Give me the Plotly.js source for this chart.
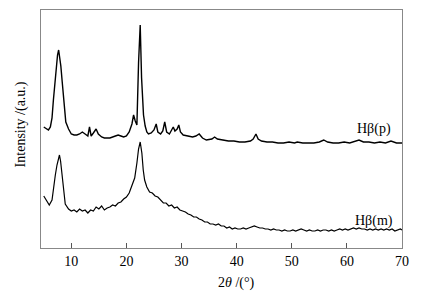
<!DOCTYPE html>
<html>
<head>
<meta charset="utf-8">
<script src="https://cdn.plot.ly/plotly-3.0.1.min.js"></script>
<style>
  html, body { margin: 0; padding: 0; background: #fff; }
  #chart { width: 427px; height: 295px; }
</style>
</head>
<body>
<div id="chart"></div>
<script>
// H-beta (p) pattern
const pTheta = [5.0, 5.5, 5.85, 6.2, 6.5, 6.75, 7.0, 7.25, 7.5, 7.7, 7.9, 8.1, 8.35, 8.7, 9.0, 9.5, 10.0, 10.5, 11.0, 11.5, 12.0, 12.5, 13.0, 13.3, 13.6, 14.0, 14.5, 14.9, 15.5, 16.0, 17.0, 18.0, 18.5, 19.0, 19.5, 20.0, 20.5, 21.0, 21.3, 21.6, 21.9, 22.2, 22.5, 22.75, 22.95, 23.1, 23.4, 23.7, 24.0, 24.5, 25.0, 25.4, 25.7, 26.2, 26.6, 26.95, 27.3, 27.8, 28.2, 28.5, 28.8, 29.2, 29.5, 29.8, 30.3, 31.0, 32.0, 32.6, 33.2, 33.8, 34.5, 35.5, 36.0, 36.5, 37.5, 38.5, 39.5, 40.5, 41.5, 42.5, 43.0, 43.5, 43.9, 44.5, 45.5, 46.5, 47.5, 48.5, 49.5, 50.5, 51.0, 52.0, 53.0, 54.0, 55.0, 55.8, 56.5, 57.5, 58.5, 59.5, 60.5, 61.5, 62.2, 63.0, 64.0, 65.0, 66.0, 67.0, 68.0, 69.0, 70.0]
const pIntensity = [121, 119, 118, 121, 130, 148, 165, 180, 193, 198, 192, 182, 166, 140, 126, 119, 114, 113, 113, 114, 116, 114, 112, 121, 112, 115, 119, 114, 111, 110, 110, 112, 113, 112, 111, 112, 116, 124, 133, 127, 123, 185, 223, 170, 140, 133, 122, 116, 114, 115, 118, 124, 116, 114, 117, 126, 116, 114, 118, 121, 117, 119, 123, 116, 113, 112, 111, 112, 114, 110, 108, 109, 111, 109, 108, 107, 107, 106, 106, 107, 109, 114, 109, 107, 106, 106, 105, 105, 106, 105, 106, 105, 105, 105, 106, 108, 106, 105, 105, 106, 105, 107, 108, 106, 106, 105, 106, 105, 107, 105, 105]

// H-beta (m) pattern
const mTheta = [5.0, 5.5, 6.0, 6.5, 6.8, 7.1, 7.4, 7.65, 7.85, 8.05, 8.3, 8.6, 8.9, 9.5, 10.0, 10.5, 11.0, 11.5, 12.0, 12.5, 13.0, 13.5, 14.0, 14.5, 15.0, 15.5, 16.0, 16.5, 17.0, 17.5, 18.0, 18.5, 19.0, 19.5, 20.0, 20.5, 21.0, 21.5, 21.9, 22.2, 22.5, 22.8, 23.05, 23.3, 23.7, 24.2, 24.7, 25.2, 25.7, 26.2, 26.7, 27.2, 27.7, 28.2, 28.7, 29.2, 29.7, 30.2, 30.7, 31.2, 31.7, 32.2, 32.7, 33.2, 33.7, 34.2, 34.7, 35.2, 35.7, 36.2, 36.7, 37.2, 37.7, 38.2, 38.7, 39.2, 39.7, 40.2, 40.7, 41.2, 41.7, 42.2, 42.7, 43.2, 43.7, 44.2, 44.7, 45.2, 45.7, 46.2, 46.7, 47.2, 47.7, 48.2, 48.7, 49.2, 49.7, 50.2, 50.7, 51.2, 51.7, 52.2, 52.7, 53.2, 53.7, 54.2, 54.7, 55.2, 55.7, 56.2, 56.7, 57.2, 57.7, 58.2, 58.7, 59.2, 59.7, 60.2, 60.7, 61.2, 61.7, 62.2, 62.7, 63.2, 63.7, 64.2, 64.7, 65.2, 65.7, 66.2, 66.7, 67.2, 67.7, 68.2, 68.7, 69.2, 69.7, 70.0]
const mIntensity = [52, 47, 43, 48, 63, 73, 83, 91, 93, 87, 73, 55, 44, 39, 37, 38, 36, 39, 37, 38, 35, 38, 37, 41, 39, 42, 38, 40, 41, 43, 42, 45, 46, 49, 51, 55, 62, 70, 85, 99, 106, 95, 78, 68, 61, 56, 55, 52, 51, 48, 45, 45, 42, 43, 40, 41, 38, 37, 36, 34, 33, 31, 31, 29, 28, 26, 26, 24, 24, 23, 24, 22, 22, 20, 21, 19, 20, 19, 19, 20, 19, 20, 21, 22, 21, 20, 20, 19, 19, 18, 19, 18, 18, 17, 18, 17, 17, 18, 17, 18, 19, 18, 17, 18, 17, 17, 18, 17, 18, 18, 17, 18, 17, 18, 19, 18, 19, 18, 19, 20, 19, 20, 19, 19, 18, 19, 18, 19, 18, 19, 18, 19, 18, 19, 17, 18, 19, 18]

const xTicks = [10, 20, 30, 40, 50, 60, 70]
const labels = ['Hβ(p)', 'Hβ(m)']

const serif = 'Liberation Serif, Times New Roman, serif'

const data = [
    {
        x: pTheta, y: pIntensity, type: 'scatter', mode: 'lines',
        line: {color: '#000', width: 1.4}, name: labels[0]
    },
    {
        x: mTheta, y: mIntensity, type: 'scatter', mode: 'lines',
        line: {color: '#000', width: 1.2}, name: labels[1]
    }
]

const layout = {
    width: 427, height: 295,
    margin: {l: 41, r: 25, t: 10, b: 47},
    showlegend: false,
    paper_bgcolor: '#fff', plot_bgcolor: '#fff',
    font: {family: serif, size: 14, color: '#000'},
    xaxis: {
        range: [4.5, 70],
        tickvals: xTicks,
        ticks: 'inside', ticklen: 5, tickcolor: '#555', tickwidth: 1,
        showline: true, linecolor: '#888', linewidth: 1, mirror: true,
        showgrid: false, zeroline: false,
        tickfont: {family: serif, size: 14, color: '#000'}
    },
    yaxis: {
        range: [0, 238],
        showticklabels: false, ticks: '',
        showline: true, linecolor: '#888', linewidth: 1, mirror: true,
        showgrid: false, zeroline: false
    },
    annotations: [
        {x: 64.9, y: 119, xref: 'x', yref: 'y', text: labels[0], showarrow: false, font: {size: 14}},
        {x: 64.9, y: 27, xref: 'x', yref: 'y', text: labels[1], showarrow: false, font: {size: 14}},
        {x: 40, y: -0.147, xref: 'x', yref: 'paper', text: '2<i>θ</i> /(°)', showarrow: false, yanchor: 'middle', font: {size: 14}},
        {x: -0.055, y: 0.52, xref: 'paper', yref: 'paper', text: 'Intensity /(a.u.)', textangle: -90, showarrow: false, xanchor: 'center', yanchor: 'middle', font: {size: 14}}
    ]
}

Plotly.newPlot('chart', data, layout, {displayModeBar: false, staticPlot: true})
</script>
</body>
</html>
